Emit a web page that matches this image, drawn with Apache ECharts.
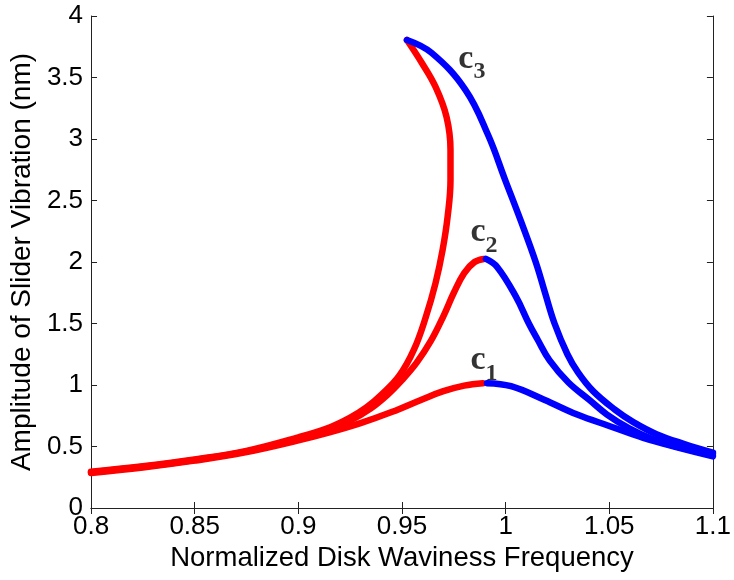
<!DOCTYPE html>
<html>
<head>
<meta charset="utf-8">
<script src="https://cdn.jsdelivr.net/npm/echarts@6/dist/echarts.min.js"></script>
<style>html,body{margin:0;padding:0;background:#fff}#c{width:734px;height:580px}</style>
</head>
<body>
<div id="c"></div>
<script>
// ---- data ----
const xTicks = [0.8, 0.85, 0.9, 0.95, 1, 1.05, 1.1];
const yTicks = [0, 0.5, 1, 1.5, 2, 2.5, 3, 3.5, 4];

const c1Red = [[0.80,0.285],[0.825,0.33],[0.85,0.385],[0.875,0.455],[0.90,0.55],[0.915,0.615],[0.93,0.69],[0.945,0.78],[0.96,0.885],[0.97,0.95],[0.98,0.995],[0.989,1.015]];
const c1Blue = [[0.991,1.015],[1.0026,0.99],[1.0186,0.88],[1.0345,0.76],[1.0503,0.665],[1.0664,0.57],[1.0823,0.495],[1.10,0.42]];
const c2Red = [[0.80,0.29],[0.825,0.335],[0.85,0.39],[0.875,0.46],[0.90,0.565],[0.915,0.64],[0.925,0.71],[0.935,0.81],[0.943,0.92],[0.95,1.04],[0.957,1.18],[0.964,1.36],[0.970,1.56],[0.975,1.75],[0.980,1.91],[0.985,2.0],[0.9895,2.025]];
const c2Blue = [[0.9905,2.025],[0.9959,1.96],[1.0049,1.72],[1.0112,1.50],[1.0154,1.37],[1.0212,1.20],[1.0303,1.02],[1.0403,0.88],[1.0489,0.76],[1.0594,0.65],[1.0709,0.56],[1.0823,0.50],[1.10,0.44]];
const c3Red = [[0.80,0.295],[0.825,0.34],[0.85,0.395],[0.875,0.465],[0.90,0.575],[0.915,0.655],[0.925,0.735],[0.933,0.82],[0.940,0.92],[0.9486,1.073],[0.9557,1.285],[0.9615,1.553],[0.9662,1.829],[0.9696,2.098],[0.972,2.366],[0.9734,2.667],[0.9734,2.911],[0.9715,3.179],[0.9662,3.423],[0.9596,3.618],[0.9524,3.805]];
const c3Blue = [[0.9524,3.805],[0.9643,3.70],[0.9806,3.40],[0.9916,3.03],[0.9997,2.67],[1.0072,2.34],[1.0145,2.0],[1.019,1.75],[1.0236,1.5],[1.0298,1.25],[1.035,1.10],[1.0422,0.95],[1.0527,0.80],[1.0614,0.70],[1.0728,0.60],[1.0862,0.52],[1.10,0.45]];

const curveLabels = ['1', '2', '3'];
const curveLabelPos = [[0.983, 1.20], [0.983, 2.24], [0.9772, 3.65]];

const xTitle = 'Normalized Disk Waviness Frequency';
const yTitle = 'Amplitude of Slider Vibration (nm)';

// ---- chart ----
const chart = echarts.init(document.getElementById('c'), null, {renderer: 'canvas'});
const RED = '#ff0000', BLUE = '#0000ff';
const lineW = 6.5;
function curve(data, color) {
  return {type: 'line', data: data, smooth: 0.4, showSymbol: false, symbol: 'none',
    lineStyle: {color: color, width: lineW, cap: 'round', join: 'round'}, z: 3, animation: false};
}
const axisFont = {fontFamily: 'Liberation Sans', fontSize: 26, color: '#000'};
const frameLine = {show: true, lineStyle: {color: '#222', width: 1}};
const tickIn = {show: true, inside: true, length: 6, lineStyle: {color: '#222', width: 1}};

chart.setOption({
  backgroundColor: '#fff',
  animation: false,
  grid: {left: 89, right: 16, top: 16, bottom: 72, containLabel: false},
  xAxis: [
    {type: 'value', min: xTicks[0], max: xTicks[xTicks.length - 1], interval: 0.05,
     axisLine: frameLine, axisTick: tickIn, splitLine: {show: false},
     axisLabel: Object.assign({margin: 6, showMinLabel: true, showMaxLabel: true}, axisFont),
     name: xTitle, nameLocation: 'middle', nameGap: 34,
     nameTextStyle: {fontFamily: 'Liberation Sans', fontSize: 27.5, color: '#000'}},
    {type: 'value', position: 'top', min: xTicks[0], max: xTicks[xTicks.length - 1], interval: 0.05,
     axisLine: frameLine, axisTick: tickIn, axisLabel: {show: false}, splitLine: {show: false}}
  ],
  yAxis: [
    {type: 'value', min: yTicks[0], max: yTicks[yTicks.length - 1], interval: 0.5,
     axisLine: frameLine, axisTick: tickIn, splitLine: {show: false},
     axisLabel: Object.assign({margin: 8}, axisFont),
     name: yTitle, nameLocation: 'middle', nameGap: 53, nameRotate: 90,
     nameTextStyle: {fontFamily: 'Liberation Sans', fontSize: 28, color: '#000'}},
    {type: 'value', position: 'right', min: yTicks[0], max: yTicks[yTicks.length - 1], interval: 0.5,
     axisLine: frameLine, axisTick: tickIn, axisLabel: {show: false}, splitLine: {show: false}}
  ],
  series: [
    curve(c1Red, RED), curve(c1Blue, BLUE),
    curve(c2Red, RED), curve(c2Blue, BLUE),
    curve(c3Red, RED), curve(c3Blue, BLUE),
    {type: 'scatter', symbolSize: 0, z: 5, animation: false,
     data: curveLabelPos.map((p, i) => ({value: p, sub: curveLabels[i]})),
     label: {show: true, position: [0, 0], align: 'left', verticalAlign: 'middle',
       formatter: (p) => '{c|c}{s|' + p.data.sub + '}',
       rich: {
         c: {fontFamily: 'Liberation Serif', fontWeight: 'bold', fontSize: 34, color: '#000', lineHeight: 50, verticalAlign: 'middle'},
         s: {fontFamily: 'Liberation Serif', fontWeight: 'bold', fontSize: 24, color: '#000', lineHeight: 50, verticalAlign: 'bottom'}
       }}}
  ]
});
</script>
</body>
</html>
